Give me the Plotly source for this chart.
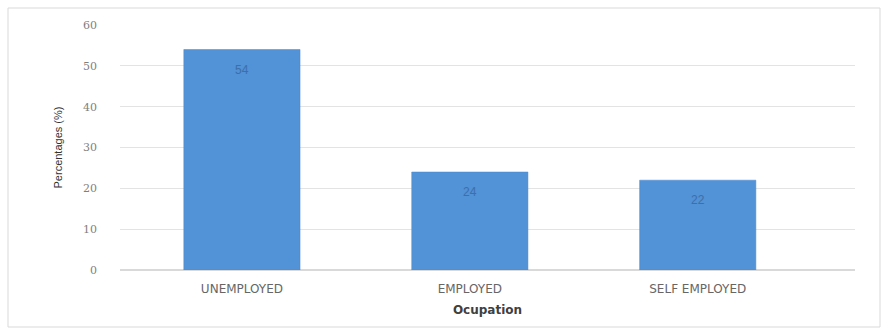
import plotly.graph_objects as go

categories = ["UNEMPLOYED", "EMPLOYED", "SELF EMPLOYED"]
values = [54, 24, 22]
y_ticks = [0, 10, 20, 30, 40, 50, 60]

W, H = 882, 328
L, R, T, B = 120, 27, 25, 58
pw, ph = W - L - R, H - T - B

def px(x):
    return (x - L) / pw

def py(y):
    return (H - B - y) / ph

fig = go.Figure()
fig.add_trace(go.Bar(
    x=categories, y=values,
    width=0.51,
    marker=dict(color="#5292d6", line=dict(color="#4a88cc", width=0.5)),
    hoverinfo="skip",
))

for c, v in zip(categories, values):
    fig.add_annotation(
        x=c, y=v, text=str(v), showarrow=False,
        yanchor="top", yshift=-11,
        font=dict(color="#3d6fa8", size=12, family="Liberation Sans"),
    )

fig.update_layout(
    width=W, height=H,
    margin=dict(l=L, r=R, t=T, b=B),
    paper_bgcolor="white", plot_bgcolor="white",
    showlegend=False,
    font=dict(family="Liberation Sans", color="#595959"),
    xaxis=dict(
        range=[-0.535, 2.69],
        showgrid=False, zeroline=False, showline=False,
        ticks="", ticklabelstandoff=10,
        tickfont=dict(size=12, color="#666666", family="DejaVu Sans"),
        title=dict(text="<b>Ocupation</b>", font=dict(size=12, color="#404040", family="DejaVu Sans"), standoff=10),
    ),
    yaxis=dict(
        range=[0, 60],
        tickvals=y_ticks,
        showgrid=True, gridcolor="#e3e3e3", gridwidth=1,
        zeroline=True, zerolinecolor="#d9d9d9",
        showline=False, ticks="",
        tickfont=dict(size=11, color="#7f7f7f", family="DejaVu Serif"),
        ticklabelstandoff=22,
        title=dict(text="Percentages (%)", font=dict(size=11, color="#333333", family="Liberation Sans"), standoff=18),
    ),
    shapes=[dict(
        type="rect", xref="paper", yref="paper",
        x0=px(8), x1=px(880), y0=py(327), y1=py(8),
        line=dict(color="#d9d9d9", width=1), fillcolor="rgba(0,0,0,0)",
        layer="below",
    )],
)

fig.write_html("out.html")
